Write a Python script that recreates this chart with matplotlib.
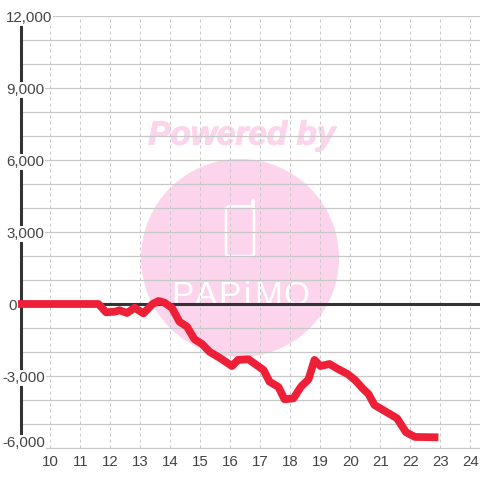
import matplotlib
matplotlib.use('Agg')
import matplotlib.pyplot as plt
import matplotlib.patheffects as pe
from matplotlib.patches import Circle, FancyBboxPatch

plt.rcParams['font.family'] = ['Liberation Sans', 'DejaVu Sans']

HOURS = [8.9, 11.6, 11.85, 12.15, 12.3, 12.55, 12.8, 13.1, 13.4, 13.6, 13.8, 14.05,
	14.3, 14.55, 14.8, 15.05, 15.3, 15.65, 16.05, 16.25, 16.6, 17.1, 17.3, 17.6,
	17.8, 18.1, 18.35, 18.6, 18.8, 19.0, 19.3, 19.6, 19.9, 20.15, 20.4, 20.6,
	20.8, 21.55, 21.85, 22.15, 22.93]
VALUES = [0, 0, -345, -320, -260, -375, -155, -390, 0, 125, 55, -165,
	-740, -945, -1470, -1665, -1990, -2250, -2585, -2330, -2305, -2750, -3235, -3460,
	-3970, -3930, -3445, -3140, -2330, -2585, -2500, -2720, -2915, -3165, -3510, -3750,
	-4210, -4760, -5345, -5540, -5555]
X_TICKS = list(range(10, 25))
Y_GRID = list(range(-6000, 13000, 1000))
Y_LABELS = ['12,000', '9,000', '6,000', '3,000', '0', '-3,000', '-6,000']
Y_LABEL_VALUES = [12000, 9000, 6000, 3000, 0, -3000, -6000]
LOGO_LETTERS = ['P', 'A', 'P', 'i', 'M', 'O']
LOGO_CENTERS = [182, 206, 229, 247, 268, 296]

RED = '#ee2038'
DARK = '#333333'
TEXT = '#444444'
GRID = '#c8c8c8'
PINK = '#fcd5ec'

fig = plt.figure(figsize=(4.8, 4.8), dpi=100)

# watermark layer, coordinates are image pixels
bg = fig.add_axes([0, 0, 1, 1], zorder=0)
bg.set_xlim(0, 480)
bg.set_ylim(480, 0)
bg.axis('off')
bg.add_patch(Circle((240, 258), 99, color=PINK, lw=0))
bg.text(242, 136, 'Powered by', color=PINK, fontsize=24, fontweight='bold',
	fontstyle='italic', ha='center', va='center',
	path_effects=[pe.withStroke(linewidth=0.8, foreground=PINK)])
bg.add_patch(FancyBboxPatch((226, 206.5), 28, 49.5, boxstyle='round,pad=0,rounding_size=3',
	fill=False, ec='white', lw=1.8))
bg.plot([253, 253], [201, 208], color='white', lw=2.6, solid_capstyle='round')
for letter, center in zip(LOGO_LETTERS, LOGO_CENTERS):
	bg.text(center, 305, letter, color='white', fontsize=24, ha='center', va='baseline')

ax = fig.add_axes([20.5 / 480, 32 / 480, 459.5 / 480, 432 / 480], zorder=1)
ax.patch.set_alpha(0)
ax.set_xlim(9, 24.317)
ax.set_ylim(-6000, 12000)
for side in ['top', 'right', 'left']:
	ax.spines[side].set_visible(False)
ax.spines['bottom'].set_color(GRID)
ax.spines['bottom'].set_linewidth(0.8)
ax.set_xticks(X_TICKS)
ax.set_yticks(Y_GRID)
ax.set_yticklabels([])
ax.tick_params(length=0)
ax.tick_params(axis='x', labelsize=10.8, labelcolor=TEXT, pad=5)
ax.set_axisbelow(True)
ax.grid(axis='y', color=GRID, lw=0.9)
ax.grid(axis='x', color=GRID, lw=0.72, linestyle=(0, (3, 3)))

ax.axhline(0, color=DARK, lw=2.2, zorder=2)
ax.axvline(9, color=DARK, lw=2.2, zorder=2, clip_on=False)
ax.plot(HOURS, VALUES, color=RED, lw=5.6, solid_capstyle='butt', solid_joinstyle='round',
	zorder=3, clip_on=False)

for label, value in zip(Y_LABELS, Y_LABEL_VALUES):
	left = 2 if label.startswith('-') else 8 if label == '0' else 6
	dy = 5 if value == -6000 else -2
	ax.annotate(label, xy=(0, value), xycoords=ax.get_yaxis_transform(),
		xytext=(left - 20.5, dy), textcoords='offset pixels', ha='left', va='center',
		fontsize=10.8, color=TEXT, zorder=4, annotation_clip=False,
		bbox=dict(fc='white', ec='none', pad=0.8))

fig.savefig('out.png', dpi=100)
